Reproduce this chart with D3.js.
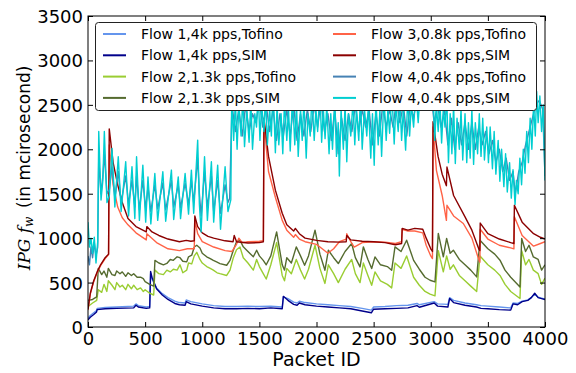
<!DOCTYPE html>
<html>
<head>
<meta charset="utf-8">
<script src="https://cdn.jsdelivr.net/npm/d3@7"></script>
<style>
  body { margin: 0; background: #fff; }
  text { font-family: 'DejaVu Sans', sans-serif; }
</style>
</head>
<body>
<svg id="graph" width="576" height="373"></svg>
<script>
// [packet id, IPG in microseconds]
const flow1Tofino = [[0,100],[20,130],[50,160],[75,185],[80,210],[150,220],[250,225],[400,235],[420,260],[440,240],[510,225],[540,230],[548,600],[560,540],[600,440],[650,375],[700,330],[760,290],[800,275],[850,270],[860,305],[900,285],[1000,260],[1100,240],[1200,230],[1300,230],[1400,235],[1500,230],[1600,235],[1700,225],[1710,340],[1750,320],[1800,280],[1830,270],[1850,290],[1900,275],[2000,260],[2100,250],[2200,240],[2300,230],[2400,210],[2480,190],[2500,225],[2600,230],[2700,240],[2800,245],[2880,265],[2900,250],[3030,285],[3060,260],[3150,255],[3165,330],[3200,300],[3300,270],[3400,250],[3440,240],[3500,235],[3600,225],[3700,215],[3720,270],[3760,265],[3800,290],[3850,305],[3880,330],[3910,370],[3940,335],[3970,325],[4000,315]];
const flow1Sim = [[0,80],[20,110],[50,140],[75,170],[80,195],[150,205],[250,210],[400,215],[420,245],[440,225],[510,210],[540,215],[548,625],[560,560],[600,430],[650,360],[700,310],[760,265],[800,250],[850,245],[860,285],[900,260],[1000,235],[1100,215],[1200,205],[1300,205],[1400,210],[1500,205],[1600,215],[1700,205],[1710,345],[1750,300],[1800,255],[1830,245],[1850,270],[1900,250],[2000,235],[2100,225],[2200,215],[2300,205],[2400,180],[2480,160],[2500,200],[2600,205],[2700,210],[2800,215],[2880,240],[2900,222],[3030,270],[3060,235],[3150,225],[3165,320],[3200,275],[3300,245],[3400,225],[3440,210],[3500,205],[3600,195],[3700,190],[3720,260],[3760,250],[3800,285],[3850,300],[3880,330],[3910,380],[3940,330],[3970,320],[4000,310]];
const flow2Tofino = [[0,230],[40,270],[76,300],[90,420],[120,390],[140,480],[165,400],[178,520],[210,470],[236,420],[251,500],[280,450],[300,470],[330,420],[350,480],[380,430],[400,470],[430,420],[460,440],[484,400],[500,420],[540,380],[575,360],[586,640],[620,600],[660,590],[690,640],[720,620],[747,650],[780,640],[805,700],[830,610],[864,640],[880,720],[908,710],[930,800],[952,840],[980,760],[1000,720],[1039,680],[1070,660],[1097,640],[1130,610],[1155,600],[1214,580],[1243,640],[1272,780],[1300,870],[1330,900],[1359,780],[1400,720],[1447,640],[1476,760],[1500,680],[1534,600],[1560,540],[1600,700],[1651,950],[1700,580],[1720,520],[1740,660],[1780,600],[1823,760],[1860,640],[1896,540],[1930,650],[1987,920],[2030,660],[2074,490],[2104,700],[2150,600],[2191,500],[2250,650],[2308,760],[2340,600],[2381,500],[2410,720],[2450,580],[2483,470],[2512,620],[2560,520],[2620,480],[2658,440],[2687,720],[2740,660],[2789,800],[2850,560],[2900,470],[2950,400],[2994,370],[3037,350],[3066,860],[3110,620],[3139,800],[3170,650],[3198,700],[3250,580],[3300,520],[3350,460],[3402,400],[3431,800],[3500,700],[3560,640],[3606,580],[3650,480],[3700,400],[3781,320],[3796,860],[3830,700],[3860,760],[3898,640],[3940,600],[3970,480],[4000,550]];
const flow2Sim = [[0,300],[40,310],[76,340],[90,660],[120,590],[140,630],[165,560],[178,660],[210,590],[236,580],[251,630],[280,600],[300,620],[330,570],[350,610],[380,580],[400,600],[430,560],[460,560],[484,545],[500,510],[540,480],[575,460],[586,750],[620,720],[660,700],[690,715],[720,760],[747,750],[780,790],[805,780],[830,740],[864,733],[880,790],[908,808],[930,900],[952,920],[980,890],[1000,830],[1039,790],[1070,770],[1097,750],[1130,730],[1155,714],[1214,695],[1243,750],[1272,864],[1300,960],[1330,977],[1359,902],[1400,850],[1447,790],[1476,864],[1500,800],[1534,750],[1560,700],[1600,800],[1651,1070],[1700,700],[1720,640],[1740,780],[1780,720],[1823,902],[1860,800],[1896,695],[1930,800],[1987,1090],[2030,820],[2074,639],[2104,864],[2150,780],[2191,714],[2250,850],[2308,940],[2340,780],[2381,676],[2410,902],[2450,760],[2483,658],[2512,789],[2560,700],[2620,680],[2658,639],[2687,902],[2740,850],[2789,977],[2850,750],[2900,650],[2950,560],[2994,526],[3037,507],[3066,1053],[3110,789],[3139,996],[3170,830],[3198,864],[3250,760],[3300,700],[3350,640],[3402,564],[3431,977],[3500,880],[3560,820],[3606,752],[3650,640],[3700,560],[3781,451],[3796,996],[3830,850],[3860,920],[3898,789],[3940,760],[3970,640],[4000,700]];
const flow3Tofino = [[0,190],[20,370],[50,510],[80,610],[110,690],[150,770],[180,815],[186,2050],[220,1600],[260,1350],[300,1230],[350,1150],[420,1060],[510,980],[515,1050],[600,950],[700,880],[800,860],[870,880],[930,880],[935,1200],[960,1050],[1000,960],[1100,900],[1200,860],[1260,850],[1300,930],[1320,1000],[1350,950],[1400,960],[1500,965],[1535,970],[1540,2300],[1580,1750],[1640,1460],[1700,1200],[1740,1090],[1800,1010],[1815,1040],[1850,990],[1900,960],[2000,930],[2050,880],[2100,830],[2150,880],[2200,960],[2260,990],[2265,1050],[2300,960],[2330,900],[2400,950],[2500,960],[2600,955],[2690,940],[2745,960],[2750,1100],[2800,1080],[2860,1080],[2930,1060],[2960,920],[3000,800],[3015,770],[3020,2250],[3050,1760],[3100,1480],[3137,1200],[3142,1370],[3200,1250],[3285,1165],[3360,1000],[3420,760],[3430,730],[3433,1100],[3500,990],[3600,920],[3700,890],[3728,880],[3732,1240],[3800,1030],[3900,910],[3960,940],[4000,960]];
const flow3Sim = [[0,200],[20,380],[50,520],[80,620],[110,700],[150,780],[180,820],[186,2230],[220,1850],[260,1600],[300,1400],[350,1220],[420,1130],[510,1070],[515,1130],[560,1070],[620,1030],[700,990],[800,960],[860,975],[900,965],[930,970],[935,1250],[960,1130],[1000,1060],[1050,1020],[1100,1000],[1200,970],[1270,960],[1280,1030],[1300,960],[1400,945],[1500,950],[1535,960],[1540,2350],[1580,1920],[1640,1540],[1700,1280],[1740,1150],[1800,1080],[1815,1110],[1850,1050],[1900,1000],[2000,975],[2100,960],[2200,955],[2260,960],[2265,1030],[2300,980],[2400,965],[2500,960],[2600,950],[2690,925],[2745,940],[2750,1110],[2800,1090],[2860,1110],[2930,1100],[2960,1000],[3000,880],[3015,850],[3020,2310],[3064,1920],[3100,1720],[3137,1590],[3142,1800],[3200,1480],[3300,1240],[3360,1090],[3420,880],[3430,860],[3433,1170],[3500,1050],[3600,990],[3700,950],[3728,940],[3732,1370],[3800,1180],[3900,1050],[3960,1010],[4000,990]];
const flow4Tofino = [[0,800],[13,700],[26,900],[40,780],[55,950],[70,800],[85,900],[94,1900],[114,1500],[130,1700],[143,1950],[166,1500],[187,1550],[210,1800],[235,1450],[265,1750],[290,1400],[330,1700],[355,1380],[385,1650],[410,1350],[425,1700],[450,1320],[480,1650],[505,1330],[525,1580],[550,1300],[585,1600],[610,1330],[655,1620],[680,1320],[730,1650],[750,1350],[790,1600],[810,1340],[850,1620],[880,1380],[905,1650],[925,1400],[960,1900],[975,1500],[990,1250],[1020,1750],[1045,1350],[1080,1700],[1100,1300],[1135,1650],[1160,1280],[1200,1600],[1225,1400],[1240,1450],[1260,2500],[1290,2200],[1320,2450],[1350,2150],[1380,2500],[1410,2200],[1440,2400],[1470,2300],[1500,2550],[1530,2250],[1560,2500],[1590,2200],[1620,2450],[1650,2100],[1680,2400],[1710,2150],[1740,2450],[1770,2150],[1800,2500],[1830,2100],[1860,2400],[1890,2150],[1920,2450],[1950,2200],[1980,2500],[2010,2250],[2040,2550],[2070,2200],[2100,2400],[2130,2100],[2160,2450],[2190,1950],[2220,2350],[2250,2100],[2280,2400],[2310,2200],[2340,2500],[2370,2200],[2400,2450],[2430,2250],[2460,2450],[2490,2050],[2520,2400],[2550,2150],[2580,2500],[2610,2250],[2640,2450],[2670,2250],[2700,2550],[2730,2300],[2760,2500],[2790,2150],[2820,2500],[2850,2350],[2880,2600],[2910,2550],[2940,2700],[2970,2600],[3000,2650],[3030,2300],[3060,2500],[3090,2250],[3120,2450],[3150,2050],[3180,2350],[3210,2000],[3240,2300],[3270,2050],[3300,2300],[3330,2000],[3360,2300],[3390,2000],[3420,2250],[3450,2050],[3480,2200],[3510,1950],[3540,2100],[3570,1850],[3600,2000],[3630,1750],[3660,1900],[3690,1650],[3720,1750],[3740,1500],[3770,1750],[3800,1850],[3830,2050],[3860,2200],[3890,2350],[3920,2500],[3950,2550],[3980,2450],[4000,1700]];
const flow4Sim = [[0,1180],[13,900],[26,1000],[40,830],[55,1010],[70,720],[85,960],[94,2200],[114,1430],[130,1650],[143,2200],[166,1400],[187,1480],[210,2010],[235,1350],[265,1916],[290,1300],[330,1860],[355,1250],[385,1803],[410,1220],[425,1916],[450,1200],[480,1822],[505,1180],[525,1690],[550,1160],[585,1728],[610,1200],[655,1747],[680,1190],[730,1766],[750,1210],[790,1690],[810,1220],[850,1728],[880,1270],[905,1766],[925,1280],[960,2103],[975,1380],[990,1070],[1020,1916],[1045,1200],[1080,1860],[1100,1180],[1135,1822],[1160,1100],[1200,1803],[1225,1300],[1250,1430],[1258,2600],[1275,2100],[1290,2550],[1305,2000],[1320,2500],[1340,2150],[1355,2600],[1370,2030],[1390,2450],[1410,2080],[1425,2550],[1440,2000],[1460,2400],[1475,2250],[1490,2650],[1505,2100],[1520,2500],[1540,2200],[1555,2600],[1570,2050],[1590,2450],[1605,2150],[1620,2700],[1640,1960],[1655,2500],[1670,2050],[1690,2400],[1705,1950],[1720,2550],[1740,2100],[1755,2450],[1770,1980],[1790,2600],[1810,2050],[1825,2500],[1840,1920],[1860,2450],[1875,2100],[1890,2550],[1910,1900],[1925,2400],[1945,2150],[1960,2600],[1980,2100],[1995,2450],[2010,2200],[2030,2650],[2045,2080],[2060,2450],[2075,2120],[2090,2500],[2110,1950],[2125,2400],[2140,2000],[2160,2550],[2175,1920],[2190,2300],[2200,1700],[2215,2450],[2235,2000],[2250,2500],[2265,1860],[2280,2400],[2300,2150],[2320,2550],[2335,2050],[2350,2450],[2370,2100],[2385,2600],[2400,2000],[2420,2450],[2440,2150],[2455,2500],[2475,1900],[2490,2400],[2505,1820],[2520,2550],[2540,2050],[2555,2450],[2570,1920],[2590,2600],[2610,2100],[2625,2450],[2640,2180],[2660,2650],[2680,2060],[2695,2500],[2715,2200],[2730,2550],[2745,2100],[2760,2450],[2780,1990],[2800,2600],[2815,2150],[2830,2500],[2850,2250],[2870,2650],[2890,2300],[2910,2700],[2930,2500],[2950,2750],[2970,2550],[2990,2700],[3005,2450],[3020,2650],[3035,2100],[3050,2500],[3065,2200],[3080,2550],[3095,2070],[3110,2450],[3125,2250],[3140,2600],[3155,1850],[3170,2400],[3185,1950],[3200,2500],[3215,1840],[3230,2350],[3250,2000],[3265,2450],[3280,1880],[3300,2400],[3315,1850],[3330,2300],[3345,1900],[3360,2450],[3375,1830],[3390,2300],[3410,1950],[3425,2400],[3440,1920],[3455,2350],[3470,1880],[3490,2250],[3505,1850],[3520,2250],[3540,1780],[3555,2200],[3570,1720],[3590,2100],[3605,1640],[3620,2000],[3640,1580],[3655,1950],[3670,1520],[3690,1850],[3705,1450],[3720,1770],[3738,1380],[3750,1650],[3765,1500],[3780,1900],[3795,1600],[3810,2000],[3825,1730],[3840,2200],[3855,1850],[3870,2350],[3885,2000],[3900,2500],[3915,2150],[3927,2650],[3940,2300],[3955,2600],[3970,2200],[3985,2500],[4000,1650]];

const seriesNames = [
  'Flow 1,4k pps,Tofino',
  'Flow 1,4k pps,SIM',
  'Flow 2,1.3k pps,Tofino',
  'Flow 2,1.3k pps,SIM',
  'Flow 3,0.8k pps,Tofino',
  'Flow 3,0.8k pps,SIM',
  'Flow 4,0.4k pps,Tofino',
  'Flow 4,0.4k pps,SIM',
];
const seriesData = [flow1Tofino, flow1Sim, flow2Tofino, flow2Sim, flow3Tofino, flow3Sim, flow4Tofino, flow4Sim];
const colors = ['#6495ed', '#00008b', '#9acd32', '#556b2f', '#ff6347', '#8b0000', '#4682b4', '#00ced1'];
const xTicks = [0, 500, 1000, 1500, 2000, 2500, 3000, 3500, 4000];
const yTicks = [0, 500, 1000, 1500, 2000, 2500, 3000, 3500];

const margin = { left: 88, right: 31, top: 16, bottom: 46 };
const svg = d3.select('#graph');
const width = +svg.attr('width');
const height = +svg.attr('height');
const innerWidth = width - margin.left - margin.right;
const innerHeight = height - margin.top - margin.bottom;

const xScale = d3.scaleLinear().domain([0, 4000]).range([0, innerWidth]);
const yScale = d3.scaleLinear().domain([0, 3500]).range([innerHeight, 0]);

function setupGraph() {
  const g = svg.append('g').attr('transform', `translate(${margin.left},${margin.top})`);

  g.append('clipPath').attr('id', 'clip')
    .append('rect').attr('width', innerWidth).attr('height', innerHeight);

  const line = d3.line()
    .x((d) => xScale(d[0]))
    .y((d) => yScale(d[1]));

  const lines = g.append('g').attr('clip-path', 'url(#clip)');
  seriesData.forEach((series, i) => {
    lines.append('path')
      .datum(series)
      .attr('d', line)
      .attr('fill', 'none')
      .attr('stroke', colors[i])
      .attr('stroke-width', 1.4)
      .attr('stroke-linejoin', 'round');
  });

  // ticks point inward, on all four sides (classic matplotlib look)
  const tickLen = 5;
  const bottom = g.append('g').attr('transform', `translate(0,${innerHeight})`)
    .call(d3.axisBottom(xScale).tickValues(xTicks).tickSize(-tickLen).tickPadding(5).tickFormat(d3.format('d')));
  const top = g.append('g')
    .call(d3.axisTop(xScale).tickValues(xTicks).tickSize(-tickLen));
  const left = g.append('g')
    .call(d3.axisLeft(yScale).tickValues(yTicks).tickSize(-tickLen).tickPadding(5).tickFormat(d3.format('d')));
  const right = g.append('g').attr('transform', `translate(${innerWidth},0)`)
    .call(d3.axisRight(yScale).tickValues(yTicks).tickSize(-tickLen));

  top.selectAll('text').remove();
  right.selectAll('text').remove();

  [bottom, top, left, right].forEach((ax) => {
    ax.select('.domain').remove();
    ax.selectAll('line').attr('stroke', '#000');
    ax.selectAll('text').attr('font-size', 18).attr('fill', '#000').attr('font-family', 'DejaVu Sans');
  });
  left.selectAll('text').attr('dy', '0.36em');

  g.append('rect')
    .attr('width', innerWidth)
    .attr('height', innerHeight)
    .attr('fill', 'none')
    .attr('stroke', '#000')
    .attr('stroke-width', 1);

  svg.append('text')
    .attr('x', margin.left + innerWidth / 2)
    .attr('y', 366)
    .attr('text-anchor', 'middle')
    .attr('font-size', 19)
    .text('Packet ID');

  const yLabel = svg.append('text')
    .attr('transform', 'translate(30,168) rotate(-90)')
    .attr('text-anchor', 'middle')
    .attr('font-size', 17);
  yLabel.append('tspan').attr('font-family', 'DejaVu Serif').attr('font-style', 'italic').text('IPG f');
  yLabel.append('tspan').attr('font-family', 'DejaVu Serif').attr('font-style', 'italic')
    .attr('font-size', 12).attr('baseline-shift', '-25%').text('w');
  yLabel.append('tspan').text('\u2002(in mcirosecond)');
}

function setupLegend() {
  const lg = svg.append('g');
  lg.append('rect')
    .attr('x', 95.5)
    .attr('y', 22.5)
    .attr('width', 441)
    .attr('height', 88)
    .attr('rx', 3)
    .attr('fill', '#fff')
    .attr('stroke', '#222')
    .attr('stroke-width', 1);

  const cols = [103, 333];
  seriesNames.forEach((name, i) => {
    const col = Math.floor(i / 4);
    const row = i % 4;
    const x = cols[col];
    const y = 34 + row * 21.3;
    lg.append('line')
      .attr('x1', x).attr('x2', x + 23)
      .attr('y1', y).attr('y2', y)
      .attr('stroke', colors[i])
      .attr('stroke-width', 2);
    lg.append('text')
      .attr('x', x + 38)
      .attr('y', y + 5)
      .attr('font-size', 14)
      .text(name);
  });
}

setupGraph();
setupLegend();
</script>
</body>
</html>
